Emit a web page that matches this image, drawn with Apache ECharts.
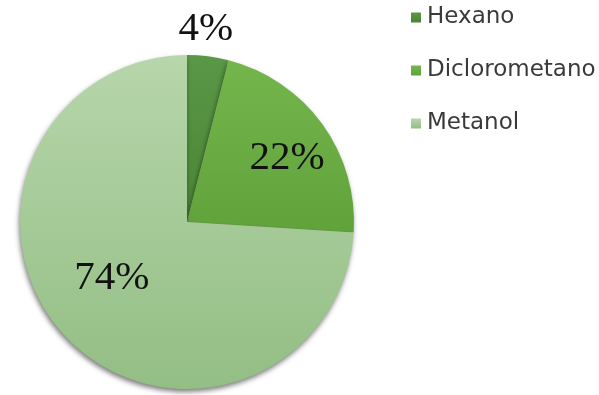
<!DOCTYPE html>
<html>
<head>
<meta charset="utf-8">
<style>
  html, body { margin: 0; padding: 0; background: #fff; }
  #chart { width: 599px; height: 395px; }
</style>
<script src="https://cdn.jsdelivr.net/npm/echarts@6/dist/echarts.min.js"></script>
</head>
<body>
<div id="chart"></div>
<script>
// Solvent share of the extraction (percent)
const categories = ['Hexano', 'Diclorometano', 'Metanol'];
const shares = [4, 22, 74];

// Per-slice shading: lighter at the top, darker toward the bottom
const topColors = ['#5a9746', '#74b64c', '#b7d6ab'];
const bottomColors = ['#4a8536', '#61a33b', '#93be84'];
// Label nudges away from the default inside position
const labelOffsets = [[8, -107], [30, -13], [-12, -3]];

function shade(i) {
  return {
    type: 'linear', x: 0, y: 0, x2: 0, y2: 1,
    colorStops: [
      { offset: 0, color: topColors[i] },
      { offset: 1, color: bottomColors[i] }
    ]
  };
}

const chart = echarts.init(document.getElementById('chart'), null, { renderer: 'canvas' });

chart.setOption({
  animation: false,
  legend: {
    orient: 'vertical',
    left: 406,
    top: 1,
    itemWidth: 10,
    itemHeight: 10,
    itemGap: 30,
    icon: 'rect',
    data: categories,
    textStyle: {
      fontFamily: 'DejaVu Sans',
      fontSize: 23,
      color: '#3a3a3a',
      padding: [0, 0, 0, 1]
    }
  },
  series: [{
    type: 'pie',
    center: [187, 222],
    radius: 167,
    startAngle: 90,
    clockwise: true,
    avoidLabelOverlap: false,
    labelLine: { show: false },
    label: {
      show: true,
      position: 'inside',
      formatter: '{d}%',
      fontFamily: 'Liberation Serif',
      fontSize: 41,
      color: '#111'
    },
    emphasis: { disabled: true },
    data: categories.map((name, i) => ({
      name: name,
      value: shares[i],
      itemStyle: {
        color: shade(i),
        borderWidth: 0,
        shadowColor: 'rgba(0,0,0,0.5)',
        shadowBlur: 5,
        shadowOffsetX: -1,
        shadowOffsetY: 3
      },
      label: { offset: labelOffsets[i] }
    }))
  }]
});
</script>
</body>
</html>
